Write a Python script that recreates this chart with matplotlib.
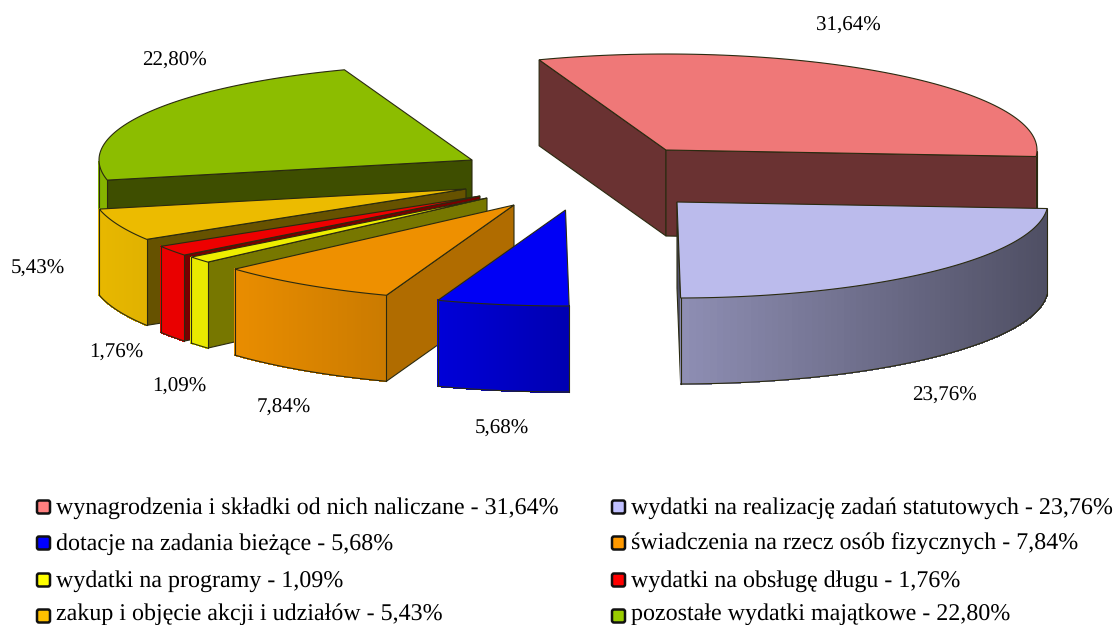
import numpy as np
import matplotlib
matplotlib.use('Agg')
import matplotlib.pyplot as plt
from matplotlib.patches import FancyBboxPatch

plt.rcParams['font.family'] = ['Liberation Serif', 'DejaVu Serif']
plt.rcParams['text.hinting'] = 'no_hinting'
plt.rcParams['text.hinting_factor'] = 1

categories = ['wynagrodzenia i składki od nich naliczane', 'wydatki na realizację zadań statutowych',
              'dotacje na zadania bieżące', 'świadczenia na rzecz osób fizycznych',
              'wydatki na programy', 'wydatki na obsługę długu',
              'zakup i objęcie akcji i udziałów', 'pozostałe wydatki majątkowe']
values = [31.64, 23.76, 5.68, 7.84, 1.09, 1.76, 5.43, 22.80]

# styles per slice
top_colors = ['#ef7878', '#bbbbec', '#0000f5', '#ee9000', '#eeee00', '#ee0000', '#ecbb00', '#8cbd00']
wall_colors = ['#6a3232', '#50506a', '#0000b0', '#b06c00', '#777700', '#770000', '#665200', '#3e4e00']
rim_left = [0.5, 0.76, 0.88, 0.98, 0.98, 0.98, 0.98, 0.95]
rim_right = [0.42, 0.42, 0.72, 0.85, 0.98, 0.98, 0.95, 0.95]
legend_colors = ['#ff8080', '#c0c0ff', '#0000ff', '#ff9900', '#ffff00', '#ff0000', '#ffc000', '#99cc00']
centers = [(666, 150), (677, 202), (565.5, 210), (514, 205), (487, 198), (480, 196), (466, 189), (472, 160)]
radii_x = [371, 371, 375, 375, 375, 375, 375, 373]
label_pos = [(848, 26), (944, 396), (502, 429), (284, 408), (179, 387), (116, 353), (38, 269), (174, 61)]
draw_order = [7, 0, 6, 5, 4, 3, 2, 1]

ry, depth = 96, 86
start_angle = 110
edge = '#2a2a10'

fig = plt.figure(figsize=(11.15, 6.25), dpi=100)
ax = fig.add_axes([0, 0, 1, 1])
ax.set_xlim(0, 1115)
ax.set_ylim(625, 0)
ax.axis('off')


def shade(col, f):
    return tuple(c * f for c in matplotlib.colors.to_rgb(col))


angles = start_angle - np.cumsum([0] + values) * 3.6
for z, i in enumerate(draw_order):
    z = z + 2
    t0 = np.radians(angles[i])
    t1 = np.radians(angles[i + 1])
    cx, cy = centers[i]
    rx = radii_x[i]
    ts = np.linspace(t0, t1, 80)
    xs = cx + rx * np.cos(ts)
    ys = cy - ry * np.sin(ts)

    # side walls
    for k, vis in ((0, np.cos(t0) < 0), (-1, np.cos(t1) > 0)):
        if vis:
            px, py = xs[k], ys[k]
            ax.fill([cx, px, px, cx], [cy, py, py + depth, cy + depth],
                    facecolor=wall_colors[i], edgecolor=edge, lw=0.8, zorder=z)

    # outer rim, shaded left to right
    front = np.sin(ts) < 0
    if front.sum() > 1:
        fx, fy = xs[front], ys[front]
        x_lo, x_hi = fx.min(), fx.max()
        for k in range(len(fx) - 1):
            pos = (0.5 * (fx[k] + fx[k + 1]) - x_lo) / (x_hi - x_lo)
            col = shade(top_colors[i], rim_left[i] + (rim_right[i] - rim_left[i]) * pos)
            ax.fill([fx[k], fx[k + 1], fx[k + 1], fx[k]],
                    [fy[k], fy[k + 1], fy[k + 1] + depth, fy[k] + depth],
                    facecolor=col, edgecolor=col, lw=0.6, antialiased=False, zorder=z)
        ax.plot(fx, fy + depth, color=edge, lw=0.8, zorder=z)
        ax.plot([fx[0], fx[0]], [fy[0], fy[0] + depth], color=edge, lw=0.8, zorder=z)
        ax.plot([fx[-1], fx[-1]], [fy[-1], fy[-1] + depth], color=edge, lw=0.8, zorder=z)

    # top face
    ax.fill(np.r_[cx, xs], np.r_[cy, ys], facecolor=top_colors[i], edgecolor=edge, lw=0.8,
            joinstyle='miter', zorder=z)

for v, (lx, ly) in zip(values, label_pos):
    ax.text(lx, ly, f'{v:.2f}%'.replace('.', ','), fontsize=15.2, ha='center', va='center', color='black')

col_x = [37, 612]
row_y = [507, 543, 580, 616]
text_base = [514, 550, 587, 619.5]
for i, (name, v) in enumerate(zip(categories, values)):
    x0 = col_x[i % 2]
    y0 = row_y[i // 2]
    ax.add_patch(FancyBboxPatch((x0 + 1, y0 - 5.5), 11, 11, boxstyle='round,pad=1,rounding_size=2',
                                facecolor=legend_colors[i], edgecolor='#111111', lw=1.8, zorder=20))
    ax.text(x0 + 19, text_base[i // 2], f'{name} - {v:.2f}%'.replace('.', ','), fontsize=17.6, ha='left', va='baseline', color='black')

fig.savefig('out.png', dpi=100)
